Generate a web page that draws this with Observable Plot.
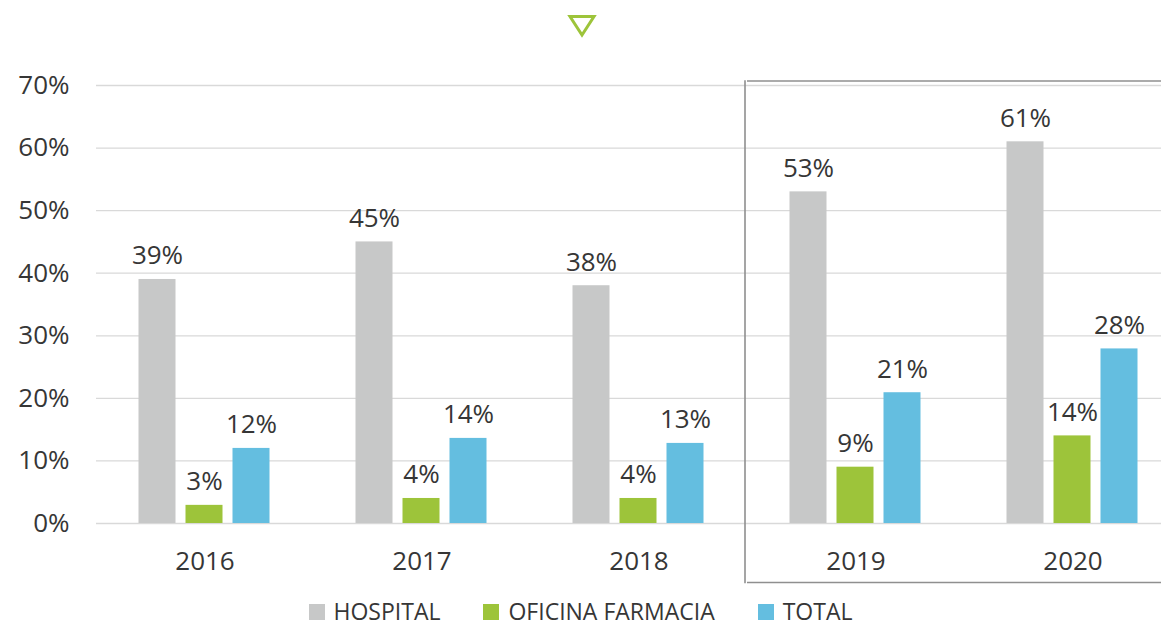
<!DOCTYPE html>
<html>
<head>
<meta charset="utf-8">
<script src="https://cdn.jsdelivr.net/npm/d3@7"></script>
<script src="https://cdn.jsdelivr.net/npm/@observablehq/plot@0.6"></script>
<style>
  html, body { margin: 0; padding: 0; background: #fff; width: 1161px; height: 627px; overflow: hidden; }
  body { font-family: "Open Sans", sans-serif; color: #363636; }
  #top { height: 50px; position: relative; }
  #chart { height: 545px; }
  #legend { height: 32px; display: flex; justify-content: center; align-items: flex-start; gap: 43px; font-size: 23px; line-height: normal; padding-top: 0; box-sizing: border-box; }
  .item { display: flex; align-items: center; gap: 9px; }
  .sw { width: 16px; height: 16px; display: inline-block; position: relative; top: 1px; }
</style>
</head>
<body>
<div id="top">
  <svg width="1161" height="50" style="position:absolute;left:0;top:0">
    <polygon points="570,16.5 594,16.5 582,35" fill="none" stroke="#9dc43a" stroke-width="3" stroke-linejoin="miter"/>
  </svg>
</div>
<div id="chart"></div>
<div id="legend"></div>
<script>
const years = ["2016", "2017", "2018", "2019", "2020"];
const seriesNames = ["HOSPITAL", "OFICINA FARMACIA", "TOTAL"];
const hospital = [39, 45, 38, 53, 61];
const oficina = [2.9, 4, 4, 9, 14];
const total = [12, 13.6, 12.8, 20.9, 27.9];
const colors = ["#c7c8c8", "#9dc43a", "#64bee0"];
const yTicks = [0, 10, 20, 30, 40, 50, 60, 70];
const highlightYears = ["2019", "2020"];

const seriesValues = [hospital, oficina, total];
const data = [];
years.forEach((yr, i) => {
  seriesNames.forEach((s, j) => {
    const v = seriesValues[j][i];
    data.push({year: yr, series: s, value: v, label: Math.round(v) + "%"});
  });
});

const boxStroke = "#8f8f8f";
const textColor = "#363636";

const chart = Plot.plot({
  width: 1161,
  height: 545,
  marginTop: 35,
  marginBottom: 72,
  marginLeft: 95.5,
  marginRight: -19.5,
  style: {fontFamily: "'Open Sans', sans-serif", fontSize: "26px", color: textColor, background: "transparent", overflow: "visible"},
  fx: {domain: years, padding: 0, axis: "bottom", tickSize: 0, tickPadding: 28, label: null},
  x: {domain: seriesNames, axis: null, paddingInner: 0.208, paddingOuter: 0.87},
  y: {domain: [0, 70], ticks: yTicks, tickFormat: d => d + "%", tickSize: 0, tickPadding: 27, label: null},
  color: {domain: seriesNames, range: colors},
  marks: [
    Plot.ruleY(yTicks, {stroke: "#d9d9d9", strokeWidth: 1.3}),
    Plot.barY(data, {fx: "year", x: "series", y: "value", fill: "series"}),
    Plot.text(data, {fx: "year", x: "series", y: "value", text: "label", lineAnchor: "bottom", dy: -15, fontSize: 26, fill: textColor}),
    Plot.ruleY(highlightYears, {fx: d => d, y: 70, dy: -4.5, stroke: boxStroke, strokeWidth: 1.6}),
    Plot.ruleY(highlightYears, {fx: d => d, y: 0, dy: 59, stroke: boxStroke, strokeWidth: 1.6}),
    Plot.frame({anchor: "left", fx: () => highlightYears[0], insetTop: -4.5, insetBottom: -59, insetLeft: -2.5, stroke: boxStroke, strokeWidth: 1.6})
  ]
});
document.getElementById("chart").appendChild(chart);

const legend = document.getElementById("legend");
seriesNames.forEach((s, j) => {
  const item = document.createElement("div");
  item.className = "item";
  const sw = document.createElement("span");
  sw.className = "sw";
  sw.style.background = colors[j];
  const t = document.createElement("span");
  t.textContent = s;
  item.appendChild(sw);
  item.appendChild(t);
  legend.appendChild(item);
});
</script>
</body>
</html>
